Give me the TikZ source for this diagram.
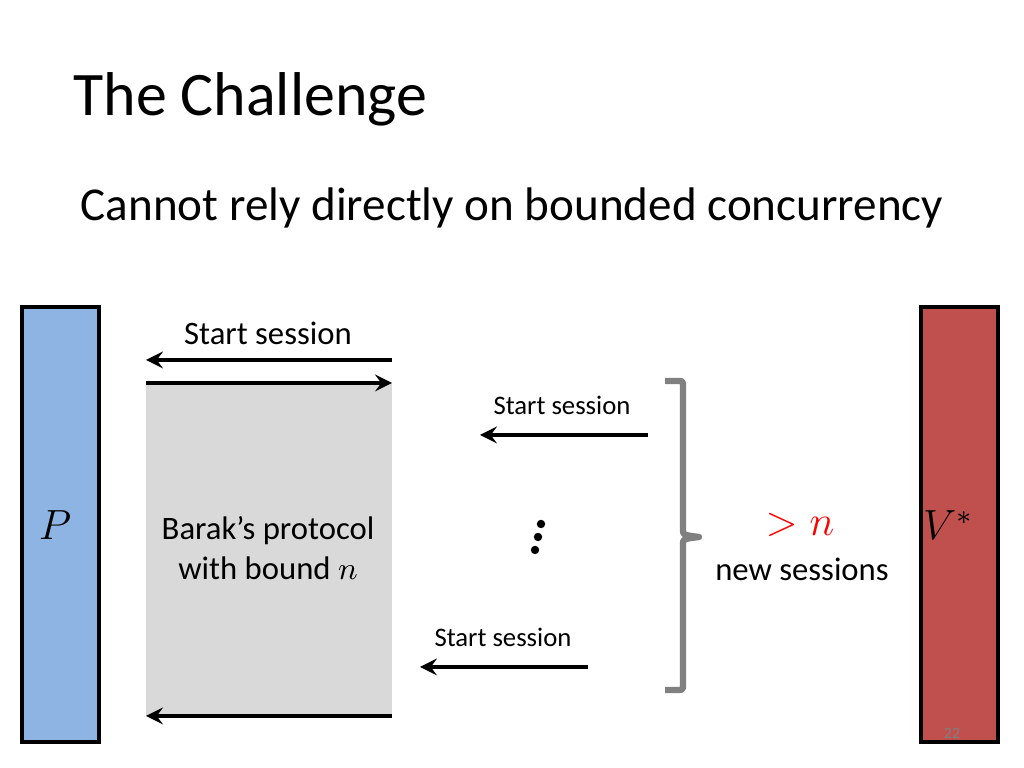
\documentclass[tikz,border=0pt]{standalone}
\usepackage{fontspec}
\setmainfont{Carlito}
\usetikzlibrary{calc}
\begin{document}
\begin{tikzpicture}[x=0.01cm,y=-0.01cm]
\definecolor{PBlue}{RGB}{141,180,226}
\definecolor{VRed}{RGB}{192,80,77}
\definecolor{BoxGray}{RGB}{217,217,217}
\tikzset{msg/.style={->,line width=1.1pt,>=stealth},
  bar/.style={draw=black,line width=1pt},
  lbl/.style={font=\fontsize{9.3}{11.5}\selectfont},
  smalllbl/.style={font=\fontsize{7.6}{9}\selectfont},
  mathlbl/.style={font=\fontsize{12}{14}\selectfont}}
\useasboundingbox (0,0) rectangle (1024,768);

\node[anchor=base west,font=\fontsize{17.6}{21}\selectfont] (title) at (61,116) {The Challenge};
\node[font=\fontsize{13.4}{16}\selectfont] (sub) at (512,208) {Cannot rely directly on bounded concurrency};

% parties
\filldraw[bar,fill=PBlue] (22,307) rectangle (99,742);
\filldraw[bar,fill=VRed] (921,307) rectangle (998,742);
\node[mathlbl] (P) at (55,525) {$P$};
\node[mathlbl] (V) at (948,525) {$V^{*}$};

% protocol box
\fill[BoxGray] (146,383) rectangle (392,716);
\node[lbl,align=center] (barak) at (268,548) {Barak's protocol\\with bound $n$};

\coordinate (a1) at (392,360); \coordinate (b1) at (146,360);
\coordinate (a2) at (146,383); \coordinate (b2) at (392,383);
\coordinate (a3) at (648,435); \coordinate (b3) at (480,435);
\coordinate (a4) at (588,667); \coordinate (b4) at (420,667);
\coordinate (a5) at (392,716); \coordinate (b5) at (146,716);
\draw[msg] (a1) -- (b1);
\draw[msg] (a2) -- (b2);
\draw[msg] (a3) -- (b3);
\draw[msg] (a4) -- (b4);
\draw[msg] (a5) -- (b5);
\node[lbl] (s1) at (268,333) {Start session};
\node[smalllbl] (s2) at (562,405) {Start session};
\node[smalllbl] (s3) at (503,637) {Start session};

% dots
\foreach \t in {0,1,2}
  \fill ($(541,524)+(-\t*3,\t*13)$) circle (1.2pt);

% bracket
\draw[gray,line width=1.8pt,line join=round]
  (665,381) -- (678,381) .. controls (683,381) .. (683,388) -- (683,530)
  .. controls (683,535) .. (699,537) .. controls (683,539) .. (683,544)
  -- (683,683) .. controls (683,690) .. (678,690) -- (665,690);

\node[mathlbl,text=red] (gt) at (800,525) {$>n$};
\node[lbl] (new) at (802,569) {new sessions};
\node[text=gray,font=\fontsize{4.5}{5}\selectfont] (page) at (952,733) {22};
\end{tikzpicture}
\end{document}
